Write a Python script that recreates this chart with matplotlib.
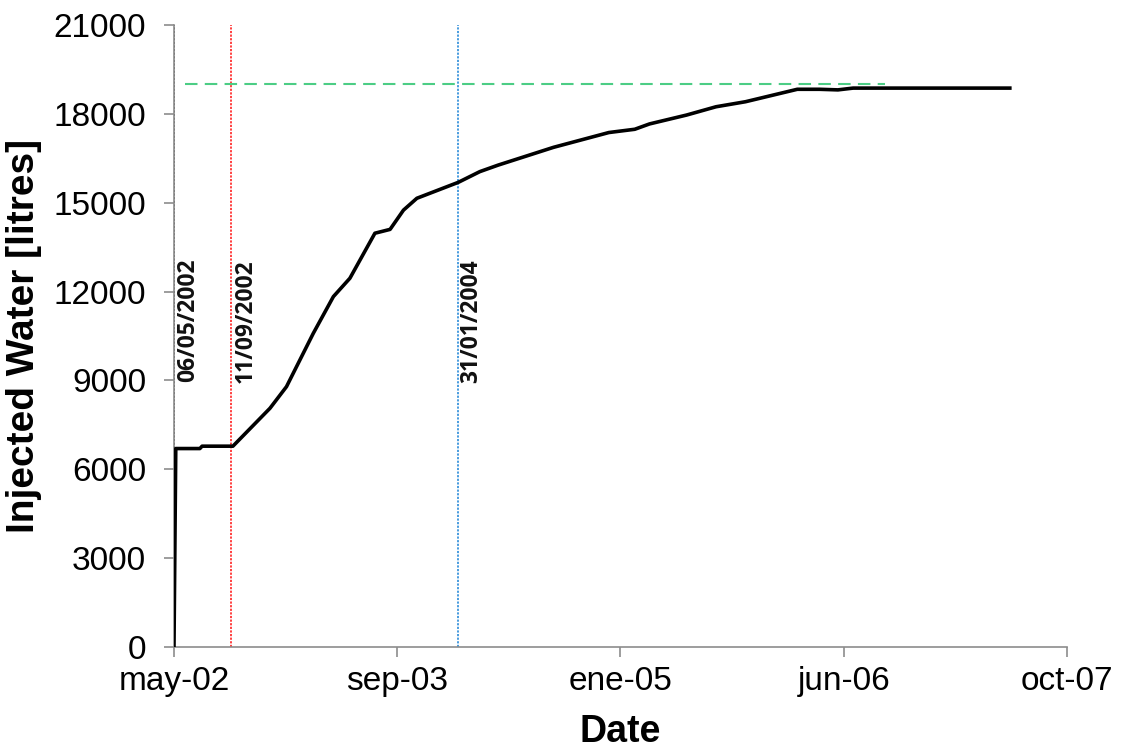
import matplotlib
matplotlib.use("Agg")
import matplotlib.pyplot as plt
import numpy as np

# injected water
dates = ["2002-05-06", "2002-05-10", "2002-07-03", "2002-07-08", "2002-09-15",
         "2002-12-07", "2003-01-13", "2003-03-14", "2003-04-28", "2003-06-04",
         "2003-07-30", "2003-09-02", "2003-10-02", "2003-11-01", "2004-02-02",
         "2004-03-21", "2004-05-01", "2004-09-02", "2005-01-04", "2005-03-03",
         "2005-04-05", "2005-06-27", "2005-09-01", "2005-11-06", "2006-03-02",
         "2006-04-21", "2006-06-01", "2006-07-05", "2007-06-21"]
water = [0, 6700, 6700, 6780, 6780,
         8060, 8790, 10590, 11830, 12450,
         13970, 14100, 14750, 15150, 15690,
         16050, 16270, 16870, 17370, 17480,
         17660, 17960, 18240, 18410, 18830,
         18830, 18810, 18870, 18870]

# event lines
event_dates = ["2002-05-06", "2002-09-11", "2004-01-31"]
event_labels = ["06/05/2002", "11/09/2002", "31/01/2004"]
event_colors = ["#222222", "#ff3030", "#3a94dc"]

# target level
target = 19000
target_span = ["2002-05-31", "2006-09-14"]

tick_dates = ["2002-05-06", "2003-09-18", "2005-01-30", "2006-06-14", "2007-10-27"]
tick_labels = ["may-02", "sep-03", "ene-05", "jun-06", "oct-07"]
y_ticks = [0, 3000, 6000, 9000, 12000, 15000, 18000, 21000]

x = np.array(dates, dtype="datetime64[D]")
ev = np.array(event_dates, dtype="datetime64[D]")
xt = np.array(tick_dates, dtype="datetime64[D]")
ts = np.array(target_span, dtype="datetime64[D]")

fig = plt.figure(figsize=(11.21, 7.49), dpi=100)
ax = fig.add_axes([0.1552, 0.1362, 0.7966, 0.8304])

for d, lab, c in zip(ev, event_labels, event_colors):
    ax.plot([d, d], [0, 21000], color=c, linestyle=(0, (1.2, 0.8)), linewidth=1.3, zorder=2)
    ax.annotate(lab, xy=(d, 13100), xytext=(1.5, 0), textcoords="offset points",
                rotation=90, ha="left", va="top", fontsize=16.5,
                fontweight="bold", family=["Open Sans", "DejaVu Sans"], color="#111111")

ax.plot(ts, [target, target], color="#4ccd85", linestyle=(0, (6, 3.5)), linewidth=1.5, zorder=2)

ax.plot(x, water, color="black", linewidth=2.6, solid_joinstyle="round", zorder=3)

ax.set_xlim(xt[0], xt[-1])
ax.set_ylim(0, 21000)
ax.set_xticks(xt)
ax.set_xticklabels(tick_labels)
ax.set_yticks(y_ticks)
ax.set_yticklabels([str(v) for v in y_ticks])

for s in ["top", "right"]:
    ax.spines[s].set_visible(False)
for s in ["left", "bottom"]:
    ax.spines[s].set_color("#8c8c8c")
    ax.spines[s].set_linewidth(1.2)

ax.tick_params(axis="both", colors="#8c8c8c", length=7, width=1.2, labelcolor="black",
               labelsize=24)
ax.tick_params(axis="y", pad=13)
ax.tick_params(axis="x", pad=7)
for t in ax.get_xticklabels() + ax.get_yticklabels():
    t.set_family(["Liberation Sans", "DejaVu Sans"])

ax.set_xlabel("Date", fontsize=27, fontweight="bold", family=["Liberation Sans", "DejaVu Sans"],
              labelpad=12)
ax.set_ylabel("Injected Water [litres]", fontsize=28, fontweight="bold",
              family=["Liberation Sans", "DejaVu Sans"], labelpad=8)

fig.savefig("out.png", dpi=100)
